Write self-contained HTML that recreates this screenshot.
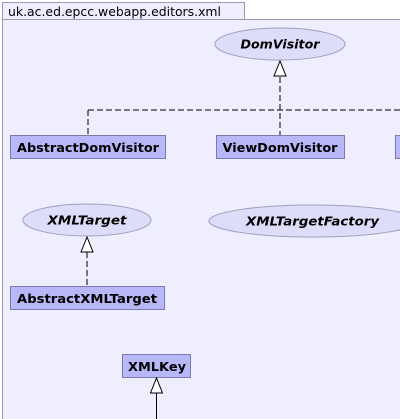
<!DOCTYPE html>
<html><head><style>
html,body{margin:0;padding:0;background:#fff;width:400px;height:419px;overflow:hidden}
svg{display:block}
</style></head><body>
<svg width="400" height="419" xmlns="http://www.w3.org/2000/svg" font-family="DejaVu Sans, sans-serif">
<rect x="2.5" y="2.5" width="242" height="17" fill="#eeeeff" stroke="#9a9ab0"/>
<rect x="2.5" y="19.5" width="410" height="410" fill="#eeeeff" stroke="#9a9ab0"/>
<text x="8" y="16" font-size="12.5" fill="#000" textLength="213" lengthAdjust="spacingAndGlyphs">uk.ac.ed.epcc.webapp.editors.xml</text>

<ellipse cx="280" cy="44" rx="65" ry="16" fill="#ddddfa" stroke="#a0a0c0"/>
<text x="280" y="48.5" font-size="12.5" font-weight="bold" font-style="italic" text-anchor="middle" textLength="79" lengthAdjust="spacingAndGlyphs">DomVisitor</text>
<path d="M280 77V135M88 110H400M88 110V135" stroke="#000" fill="none" stroke-dasharray="6,3"/>
<polygon points="280,61 274,76 286,76" fill="#fff" stroke="#000"/>

<rect x="10.5" y="135.5" width="155" height="23" fill="#b8b8f8" stroke="#7a7ab0"/>
<text x="88" y="152" font-size="12.5" font-weight="bold" text-anchor="middle" textLength="142" lengthAdjust="spacingAndGlyphs">AbstractDomVisitor</text>
<rect x="216.5" y="135.5" width="128" height="23" fill="#b8b8f8" stroke="#7a7ab0"/>
<text x="280" y="152" font-size="12.5" font-weight="bold" text-anchor="middle" textLength="115" lengthAdjust="spacingAndGlyphs">ViewDomVisitor</text>
<rect x="395.5" y="135.5" width="30" height="23" fill="#b8b8f8" stroke="#7a7ab0"/>

<ellipse cx="87" cy="220" rx="64" ry="16" fill="#ddddfa" stroke="#a0a0c0"/>
<text x="87" y="224.5" font-size="12.5" font-weight="bold" font-style="italic" text-anchor="middle" textLength="79" lengthAdjust="spacingAndGlyphs">XMLTarget</text>
<ellipse cx="313" cy="221" rx="104" ry="16" fill="#ddddfa" stroke="#a0a0c0"/>
<text x="312.5" y="225.5" font-size="12.5" font-weight="bold" font-style="italic" text-anchor="middle" textLength="133" lengthAdjust="spacingAndGlyphs">XMLTargetFactory</text>
<path d="M87 252V286" stroke="#000" fill="none" stroke-dasharray="6,3"/>
<polygon points="87,237 81,252 93,252" fill="#fff" stroke="#000"/>

<rect x="10.5" y="286.5" width="154" height="23" fill="#b8b8f8" stroke="#7a7ab0"/>
<text x="87" y="303" font-size="12.5" font-weight="bold" text-anchor="middle" textLength="140" lengthAdjust="spacingAndGlyphs">AbstractXMLTarget</text>

<rect x="122.5" y="354.5" width="68" height="23" fill="#b8b8f8" stroke="#7a7ab0"/>
<text x="157" y="371" font-size="12.5" font-weight="bold" text-anchor="middle" textLength="58" lengthAdjust="spacingAndGlyphs">XMLKey</text>
<path d="M156.5 393V419" stroke="#000"/>
<polygon points="156.5,378 150.5,393 162.5,393" fill="#fff" stroke="#000"/>
</svg>
</body></html>
